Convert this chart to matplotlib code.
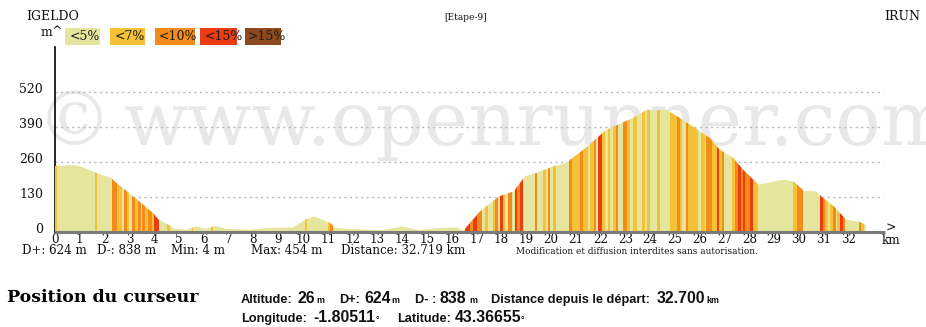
import numpy as np
import matplotlib
matplotlib.use("Agg")
import matplotlib.pyplot as plt
from matplotlib.patches import Polygon, Rectangle
from matplotlib.transforms import ScaledTranslation

# Elevation profile: distance (km) and altitude (m)
dist_km = [0, 0.3, 0.67, 1.0, 1.68, 2.29, 2.35, 2.82, 3.15, 3.56, 3.96, 4.17, 4.5, 4.84,
           5.3, 5.7, 6.1, 6.45, 6.9, 7.86, 8.5, 9.6, 10.1, 10.45, 11.1, 11.3, 11.9, 13.2,
           14.0, 14.7, 15.5, 16.2, 16.46, 17.14, 17.9, 18.5, 18.95, 19.4, 20.1, 20.6,
           21.4, 22.0, 22.24, 23.0, 23.3, 23.86, 24.2, 24.66, 25.2, 26.0, 26.4, 26.8,
           27.35, 27.75, 28.36, 29.37, 29.77, 30.2, 30.7, 30.9, 31.4, 31.9, 32.4, 32.7]
alt_m = [246, 246, 249, 245, 219, 200, 192, 157, 132, 101, 70, 46, 31, 12,
         8, 21, 11, 23, 12, 8, 15, 17, 46, 58, 33, 15, 11, 6,
         21, 6, 15, 17, 4, 77, 132, 151, 207, 219, 244, 256,
         312, 361, 380, 411, 423, 454, 452, 454, 423, 374, 349, 306,
         275, 231, 176, 194, 188, 153, 151, 132, 95, 46, 39, 26]

# Grade stripes: start km, end km, grade class (1:<7%, 2:<10%, 3:<15%, 4:>15%)
stripe_start = [0.00, 1.62, 2.28, 2.48, 2.78, 2.90, 3.10, 3.22, 3.36, 3.52, 3.64, 3.76, 3.90,
                4.00, 4.50, 5.51, 6.28, 10.08, 11.00, 11.10,
                16.53, 16.73, 16.87, 17.00, 17.33, 17.65, 17.74, 17.94, 18.08, 18.28, 18.55,
                18.64, 18.75, 19.35, 19.69, 19.89, 20.10,
                20.72, 20.83, 21.17, 21.30, 21.57, 21.75, 21.91, 22.04, 22.31, 22.51, 22.61,
                22.92, 23.05, 23.32, 23.68, 23.86, 24.26, 24.80, 25.07, 25.20, 25.44, 25.54,
                26.03, 26.27, 26.48, 26.68, 26.79, 26.88, 27.28, 27.42, 27.55, 27.65, 27.73,
                27.82, 28.02, 28.13,
                29.77, 29.93, 30.85, 30.96, 31.05, 31.27, 31.38, 31.52, 31.65, 31.76, 32.43,
                32.52]
stripe_end = [0.08, 1.70, 2.48, 2.70, 2.90, 2.98, 3.22, 3.34, 3.48, 3.64, 3.76, 3.90, 4.00,
              4.20, 4.62, 5.58, 6.38, 10.17, 11.10, 11.22,
              16.73, 16.87, 17.00, 17.20, 17.47, 17.74, 17.88, 18.08, 18.15, 18.41, 18.64,
              18.75, 18.88, 19.45, 19.80, 19.96, 20.20,
              20.83, 21.17, 21.30, 21.51, 21.75, 21.80, 22.04, 22.18, 22.38, 22.61, 22.71,
              23.05, 23.18, 23.45, 23.79, 23.99, 24.39, 25.07, 25.20, 25.30, 25.54, 25.94,
              26.21, 26.48, 26.68, 26.79, 26.88, 26.97, 27.42, 27.55, 27.65, 27.73, 27.82,
              28.02, 28.13, 28.33,
              29.93, 30.15, 30.96, 31.05, 31.18, 31.38, 31.49, 31.65, 31.76, 31.85, 32.52,
              32.62]
stripe_grade = [1, 1, 2, 1, 2, 1, 2, 1, 2, 2, 1, 2, 1,
                3, 1, 1, 1, 1, 1, 2,
                3, 2, 3, 2, 1, 1, 2, 3, 1, 2, 3,
                2, 3, 2, 1, 2, 1,
                2, 1, 2, 1, 1, 2, 3, 1, 1, 1, 2,
                2, 1, 1, 1, 1, 1, 1, 2, 1, 2, 1,
                1, 2, 1, 3, 1, 2, 1, 2, 3, 2, 3,
                2, 3, 1,
                1, 2, 3, 2, 1, 1, 2, 1, 3, 2, 2,
                1]

grade_labels = ["<5%", "<7%", "<10%", "<15%", ">15%"]
grade_colors = ["#e5e59e", "#f5c136", "#f28b1a", "#ec3c12", "#8e4a1c"]

y_ticks = [0, 130, 260, 390, 520]
x_ticks = list(range(0, 33))

W, H = 926, 327
fig = plt.figure(figsize=(W / 100, H / 100), dpi=100)
fig.patch.set_facecolor("white")


def fx(px):
    return px / W


def fy(py):
    return 1 - py / H


# plot area in pixels
x0, x1, yb, yt = 55, 885, 232, 47
ax = fig.add_axes([fx(x0), fy(yb), fx(x1) - fx(x0), fy(yt) - fy(yb)])
ax.patch.set_alpha(0)
xmax = (x1 - x0) / 24.8
ymax = (yb - yt) / (35 / 130)
ax.set_xlim(0, xmax)
ax.set_ylim(0, ymax)

# watermark
wm_color = "#e8e8e8"
fig.text(fx(37), fy(145), "\u00a9", fontsize=54, family="DejaVu Serif", color=wm_color,
         va="baseline", ha="left", zorder=-5)
fig.text(fx(124), fy(145), "www.openrunner.com", fontsize=54, family="DejaVu Serif",
         color=wm_color, va="baseline", ha="left", zorder=-5)

# grid lines
ax.hlines(y_ticks[1:], 0, (883 - x0) / 24.8, colors="#b8b8b8", linestyles=(0, (1.5, 2.5)),
          linewidth=1, zorder=1)

# profile
verts = np.column_stack([[dist_km[0]] + dist_km + [dist_km[-1]], [0] + alt_m + [0]])
profile = Polygon(verts, closed=True, facecolor=grade_colors[0], edgecolor="none", zorder=2)
ax.add_patch(profile)
for s, e, g in zip(stripe_start, stripe_end, stripe_grade):
    band = ax.axvspan(s, e, color=grade_colors[g], lw=0, zorder=3)
    band.set_clip_path(profile)

# axes styling
for side in ["top", "right", "bottom"]:
    ax.spines[side].set_visible(False)
ax.spines["left"].set_color("black")
ax.spines["left"].set_linewidth(1.2)
ax.plot([0, xmax], [0, 0], color="#7a7a7a", lw=2.2, clip_on=False, zorder=5,
        solid_capstyle="butt")

ax.set_xticks(x_ticks)
ax.set_xticklabels([str(t) for t in x_ticks], family="DejaVu Serif", fontsize=8.6)
ax.set_yticks(y_ticks)
ax.set_yticklabels([str(t) for t in y_ticks], family="DejaVu Serif", fontsize=9)
ax.tick_params(axis="x", length=0, pad=0.5, colors="#111111")
ax.tick_params(axis="y", length=0, pad=8.5, colors="#111111")
for lab in ax.get_yticklabels():
    lab.set_transform(lab.get_transform() + ScaledTranslation(0, 4 / 100, fig.dpi_scale_trans))

serif = "DejaVu Serif"
fig.text(fx(891), fy(228), ">", fontsize=9, family=serif, ha="center", va="center",
         color="#111111")
fig.text(fx(891), fy(240), "km", fontsize=8.6, family=serif, ha="center", va="center",
         color="#111111")
fig.text(fx(52), fy(32), "m", fontsize=9, family=serif, ha="right", va="center",
         color="#111111")
fig.text(fx(57), fy(38), "^", fontsize=9, family=serif, ha="center", va="bottom",
         color="#111111")

# header
fig.text(fx(26), fy(16), "IGELDO", fontsize=9, family=serif, ha="left", va="center",
         color="#111111")
fig.text(fx(466), fy(17), "[Etape-9]", fontsize=6.5, family=serif, ha="center",
         va="center", color="#111111")
fig.text(fx(920), fy(16), "IRUN", fontsize=9, family=serif, ha="right", va="center",
         color="#111111")

# legend
leg_boxes = [(65, 100), (110, 145), (155, 195), (200, 237), (245, 281)]
leg_text_x = [70, 115, 159, 205, 248]
for (bx0, bx1), tx, lab, col in zip(leg_boxes, leg_text_x, grade_labels, grade_colors):
    fig.patches.append(Rectangle((fx(bx0), fy(45)), fx(bx1) - fx(bx0), fy(28) - fy(45),
                                 transform=fig.transFigure, facecolor=col, edgecolor="none"))
    fig.text(fx(tx), fy(37), lab, fontsize=9, family=serif, ha="left", va="center",
             color="#1a1a1a")

# summary line under the axis
summary = [(22, "D+: 624 m"), (97, "D-: 838 m"), (171, "Min: 4 m"), (251, "Max: 454 m"),
           (341, "Distance: 32.719 km")]
for px, txt in summary:
    fig.text(fx(px), fy(251), txt, fontsize=8.6, family=serif, ha="left", va="center",
             color="#111111")
fig.text(fx(516), fy(252), "Modification et diffusion interdites sans autorisation.",
         fontsize=6.4, family=serif, ha="left", va="center", color="#111111")

# cursor panel
fig.text(fx(7), fy(297), "Position du curseur", fontsize=12.5, family=serif,
         weight="bold", ha="left", va="center", color="black")

sans = "Liberation Sans"
size = {"label": 9.2, "val": 11.4, "unit": 6.4}
line1 = [(241, "Altitude:", "label"), (297, "26", "val"), (316, "m", "unit"),
         (339, "D+:", "label"), (364, "624", "val"), (391, "m", "unit"),
         (415, "D- :", "label"), (440, "838", "val"), (469, "m", "unit"),
         (491, "Distance depuis le d\u00e9part:", "label"), (657, "32.700", "val"),
         (706, "km", "unit")]
line2 = [(241, "Longitude:", "label"), (313, "-1.80511", "val"), (376, "\u00b0", "unit"),
         (397, "Latitude:", "label"), (455, "43.36655", "val"), (521, "\u00b0", "unit")]
for base, items in [(303, line1), (322, line2)]:
    for px, txt, kind in items:
        fig.text(fx(px), fy(base), txt, fontsize=size[kind], family=sans, weight="bold",
                 ha="left", va="baseline", color="#111111")

fig.savefig("out.png", dpi=100, facecolor="white")
